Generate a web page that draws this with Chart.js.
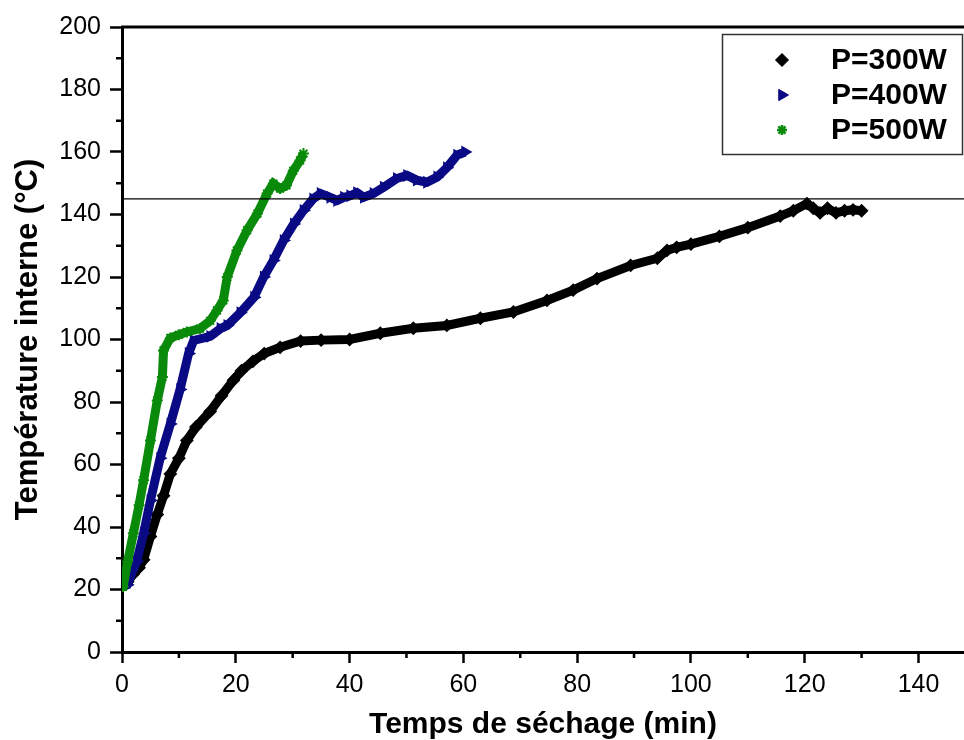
<!DOCTYPE html>
<html>
<head>
<meta charset="utf-8">
<title>Température interne</title>
<script src="https://cdn.jsdelivr.net/npm/chart.js@4.4.0/dist/chart.umd.min.js"></script>
<style>
html, body { margin: 0; padding: 0; background: #fff; }
</style>
</head>
<body>
<canvas id="Temperature" width="964" height="740"></canvas>
<script>
// drying time (min) and internal temperature (°C) for each power
const t300 = [0, 1, 2, 3, 3.8, 5, 6.2, 7.3, 8.5, 10, 11.4, 13, 15.5, 17.5, 19.6, 21, 23, 25, 27.8, 31.4, 35, 40, 45.4, 51.2, 57.1, 63, 68.8, 74.7, 79.3, 83.5, 89.4, 94.1, 95.8, 97.5, 100, 105, 110, 115.7, 118, 120.4, 121.5, 122.7, 124, 125.5, 127, 128.5, 130];
const T300 = [21, 22.5, 25, 27, 29.5, 37, 44, 50, 57, 62, 67.7, 72, 77, 82, 87, 90, 93, 95.5, 97.5, 99.5, 99.8, 100, 102, 103.6, 104.5, 106.8, 108.8, 112.5, 115.8, 119.5, 123.7, 126, 128.5, 129.5, 130.5, 133, 135.8, 139.5, 141.2, 143.5, 142, 140.5, 142, 140.5, 141.2, 141.5, 141.2];

const t400 = [0, 0.9, 2.6, 3.8, 5, 6.7, 8.5, 10.2, 11.7, 12.6, 15.5, 17.3, 18.5, 20.8, 23.2, 24.9, 26.6, 28.4, 30.2, 31.9, 33.6, 34.9, 36.6, 37.8, 39, 40.1, 41.3, 42.5, 44.2, 46, 48.3, 50.1, 51.8, 53.6, 55.4, 57.1, 58.9, 60.3];
const T400 = [21, 21.5, 29, 38, 48.5, 62, 73, 84, 95.5, 99.7, 101, 103.5, 104.5, 108.6, 113.5, 120, 125.3, 131.7, 137, 141.3, 145, 146.7, 145.5, 144.5, 145.5, 146, 147, 145.5, 146.7, 148.7, 151.5, 152.5, 151, 150.3, 152, 155, 159, 160];

const t500 = [0, 0.2, 1, 2, 3, 3.8, 5, 6.2, 7.1, 7.3, 8.5, 10, 11.4, 13.7, 15.5, 16.7, 17.8, 18.5, 20.2, 22, 23.8, 25.5, 26.6, 27.8, 28.9, 30.1, 31.3, 31.9];
const T500 = [21, 21, 29, 38, 47, 55, 67.7, 80.5, 88, 96.5, 100.5, 101.5, 102.4, 103.5, 106, 109.3, 112.5, 120, 128.5, 135, 140.3, 146.7, 149.9, 148.3, 149.3, 154, 157.3, 159.5];

const seriesLabels = ['P=300W', 'P=400W', 'P=500W'];
const refLevel = 145;
const xRange = [0, 148];
const yRange = [0, 200];
const xTicks = [0, 20, 40, 60, 80, 100, 120, 140];
const yTicks = [0, 20, 40, 60, 80, 100, 120, 140, 160, 180, 200];

function pairs(xs, ys) {
    return xs.map((v, i) => ({x: v, y: ys[i]}));
}

function serie(label, xs, ys, color, style, rot, order) {
    return {
        label: label,
        data: pairs(xs, ys),
        borderColor: color,
        backgroundColor: color,
        borderWidth: 9,
        pointStyle: style,
        pointRotation: rot,
        pointRadius: 5.5,
        pointBorderWidth: 2,
        pointBorderColor: color,
        pointBackgroundColor: color,
        tension: 0,
        order: order
    };
}

// outward minor ticks and the top frame line
const frame = {
    id: 'frame',
    afterDraw(chart) {
        const {ctx, chartArea, scales} = chart;
        const x = scales.x, y = scales.y;
        ctx.save();
        ctx.strokeStyle = '#000';
        ctx.lineWidth = 2.5;
        ctx.beginPath();
        for (let v = 10; v < x.max; v += 20) {
            const px = x.getPixelForValue(v);
            ctx.moveTo(px, chartArea.bottom);
            ctx.lineTo(px, chartArea.bottom + 6);
        }
        for (let v = 10; v < y.max; v += 20) {
            const py = y.getPixelForValue(v);
            ctx.moveTo(chartArea.left, py);
            ctx.lineTo(chartArea.left - 6, py);
        }
        ctx.stroke();
        ctx.lineWidth = 3;
        ctx.beginPath();
        ctx.moveTo(chartArea.left - 1, chartArea.top);
        ctx.lineTo(chartArea.right, chartArea.top);
        ctx.stroke();
        ctx.restore();
    }
};

// boxed legend inside the plot, top right
const boxLegend = {
    id: 'boxLegend',
    afterDraw(chart) {
        const ctx = chart.ctx;
        ctx.save();
        ctx.strokeStyle = '#333';
        ctx.lineWidth = 1.5;
        ctx.strokeRect(722.5, 34.5, 240, 120);
        ctx.font = 'bold 30px "Liberation Sans", Arial, sans-serif';
        ctx.textBaseline = 'middle';
        const rows = [60, 95, 130];
        for (let i = 0; i < 3; i++) {
            const ds = chart.data.datasets[i];
            ctx.fillStyle = ds.pointBackgroundColor;
            ctx.strokeStyle = ds.pointBorderColor;
            ctx.lineWidth = i === 2 ? 2.5 : 1;
            Chart.helpers.drawPoint(ctx, {
                pointStyle: ds.pointStyle,
                rotation: ds.pointRotation,
                radius: i === 2 ? 5 : 6.5,
                borderWidth: ctx.lineWidth
            }, 782, rows[i]);
            ctx.fillStyle = '#000';
            ctx.fillText(ds.label, 831, rows[i] + 1);
        }
        ctx.restore();
    }
};

const tickFont = { family: '"Liberation Sans", Arial, sans-serif', size: 25 };

const ctx = document.getElementById('Temperature');
const myChart = new Chart(ctx, {
    type: 'line',
    data: {
        datasets: [
            serie(seriesLabels[0], t300, T300, '#000000', 'rectRot', 0, 3),
            serie(seriesLabels[1], t400, T400, '#0a0a85', 'triangle', 90, 2),
            serie(seriesLabels[2], t500, T500, '#0a8a0a', 'star', 0, 1),
            {
                label: 'ref',
                data: [{x: xRange[0], y: refLevel}, {x: xRange[1], y: refLevel}],
                borderColor: '#000',
                borderWidth: 1.3,
                pointRadius: 0,
                order: 0
            }
        ]
    },
    options: {
        responsive: false,
        animation: false,
        layout: { autoPadding: false, padding: { top: 27, right: 0, bottom: 0, left: 0 } },
        plugins: {
            legend: { display: false },
            tooltip: { enabled: false }
        },
        scales: {
            x: {
                type: 'linear',
                min: xRange[0],
                max: xRange[1],
                afterBuildTicks: s => { s.ticks = xTicks.map(v => ({value: v})); },
                afterFit: s => { s.height = 88; s.paddingLeft = 0; s.paddingRight = 0; },
                ticks: {
                    padding: 7,
                    color: '#000',
                    maxRotation: 0,
                    autoSkip: false,
                    font: tickFont
                },
                grid: {
                    drawOnChartArea: false,
                    tickLength: 11,
                    tickWidth: 2.5,
                    tickColor: '#000'
                },
                border: { display: true, color: '#000', width: 3 },
                title: {
                    display: true,
                    text: 'Temps de séchage (min)',
                    color: '#000',
                    padding: { top: 0, bottom: 0 },
                    font: { family: '"Liberation Sans", Arial, sans-serif', size: 30, weight: 'bold', lineHeight: 1.05 }
                }
            },
            y: {
                min: yRange[0],
                max: yRange[1],
                afterBuildTicks: s => { s.ticks = yTicks.map(v => ({value: v})); },
                afterFit: s => { s.width = 122; s.paddingTop = 0; s.paddingBottom = 0; },
                ticks: {
                    padding: 9,
                    color: '#000',
                    autoSkip: false,
                    font: tickFont
                },
                grid: {
                    drawOnChartArea: false,
                    tickLength: 12,
                    tickWidth: 2.5,
                    tickColor: '#000'
                },
                border: { display: true, color: '#000', width: 3 },
                title: {
                    display: true,
                    text: 'Température interne (°C)',
                    color: '#000',
                    padding: { top: 10, bottom: 0 },
                    font: { family: '"Liberation Sans", Arial, sans-serif', size: 31, weight: 'bold', lineHeight: 1.2 }
                }
            }
        }
    },
    plugins: [frame, boxLegend]
});
</script>
</body>
</html>
